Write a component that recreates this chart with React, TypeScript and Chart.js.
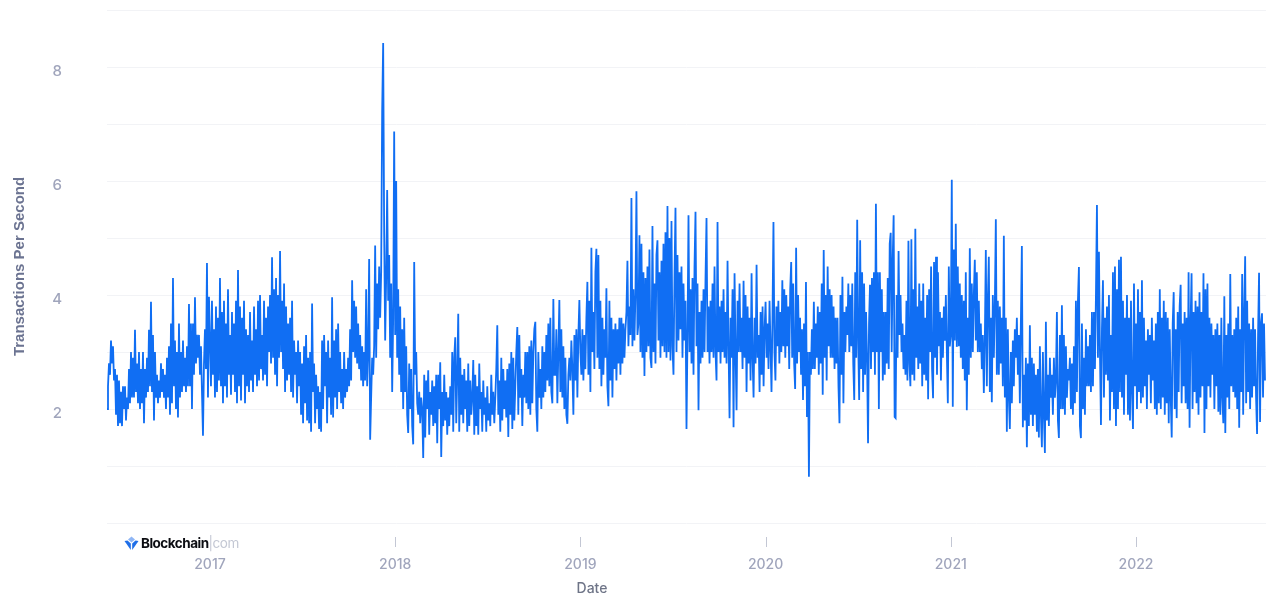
import React, { useEffect, useRef } from "react";
import { Chart, registerables } from "chart.js";

Chart.register(...registerables);

const yearTicks = [2017, 2018, 2019, 2020, 2021, 2022];
const valueTicks = [2, 4, 6, 8];
const seriesStart = 2016.444;
const seriesEnd = 2022.702;

const tps2016 = [2.0,2.4,2.8,2.6,3.2,2.8,3.1,2.5,2.7,1.9,2.6,1.7,2.5,1.75,2.3,1.7,2.4,2.0,2.4,1.8,2.2,2.0,2.7,2.1,3.0,2.2,2.9,2.2,3.39,2.3,2.8,2.1,3.0,2.0,2.7,2.1,3.0,1.75,2.7,2.2,2.9,2.3,3.39,2.4,3.88,2.3,3.3,1.8,3.0,2.2,2.6,2.1,2.5,2.2,2.8,2.3,2.7,2.2,2.6,2.0,2.9,2.2,3.1,1.9,3.5,2.1,4.3,2.4,3.2,2.0,3.0,1.85,3.5,2.2,3.0,2.3,3.2,2.4,2.9,2.3,3.1,2.4,3.84,2.4,3.5,2.0,3.5,2.6,3.96,2.8,3.3,2.9,3.3,2.6,3.1,2.3,1.53,2.8,3.4,2.7,4.56,2.2,3.97];

const tps2017 = [3.2,2.4,3.9,2.6,3.4,2.2,3.8,2.3,3.6,2.5,4.3,2.4,3.7,2.1,3.9,2.4,3.5,2.2,4.1,2.6,
3.3,2.25,3.7,2.6,3.5,2.3,3.9,2.1,4.44,2.4,3.8,2.15,3.6,2.6,3.9,2.1,3.4,2.4,3.3,2.3,
3.7,2.5,3.2,2.3,3.8,2.6,3.4,2.4,3.9,2.5,4.0,2.7,3.3,2.5,3.9,2.6,3.6,2.4,3.8,3.0,
4.0,2.8,4.66,2.9,4.1,2.6,4.3,2.4,4.0,2.9,4.77,3.0,3.9,2.7,4.2,2.3,3.8,2.5,3.5,2.6,
3.6,2.3,3.9,2.2,3.2,2.6,3.0,2.1,3.2,2.4,3.0,1.9,2.8,1.75,3.1,2.1,3.3,1.8,2.9,1.75,
3.0,1.6,3.85,2.3,2.8,1.75,2.6,2.0,2.4,1.65,2.3,1.6,3.2,2.0,3.3,2.4,3.0,1.75,3.2,2.2,
2.9,1.9,3.96,1.85,3.2,2.2,3.4,2.0,3.5,2.3,3.0,2.1,2.7,2.0,3.0,2.2,2.7,2.3,2.9,2.4,
3.4,2.5,4.26,3.0,3.9,2.9,3.8,2.8,3.5,2.7,3.3,2.5,3.1,2.4,3.0,2.5,4.1,2.4,3.0,4.63,
1.46,2.2,2.9,2.6,3.1,4.87,2.9,4.2,3.4,4.5,3.6,4.4,7.2,8.42,5.1,3.2,4.3,5.84,3.9,4.7,2.9,4.2,2.3,3.6,6.87];

const tps2018 = [3.3,6.0,2.9,4.1,2.6,3.8,2.3,3.4,2.0,3.6,2.3,3.1,1.9,1.58,2.8,2.0,2.7,1.7,1.38,4.58,
2.6,3.0,2.1,1.9,2.3,1.75,2.2,2.0,1.14,2.6,1.5,2.5,2.0,2.68,1.55,2.3,1.9,2.5,1.7,2.4,
1.75,2.6,1.4,2.6,2.0,2.82,1.16,2.3,1.7,2.6,1.8,2.3,1.55,2.2,1.7,2.4,1.9,3.0,1.6,2.9,
3.26,1.75,2.6,3.67,1.6,2.9,1.9,2.6,1.75,2.7,2.0,2.5,1.6,2.8,1.7,2.5,1.9,2.2,2.86,1.55,
2.6,1.7,2.4,1.55,2.8,2.0,2.3,1.6,2.5,1.9,2.2,1.6,2.4,1.8,2.1,1.7,2.6,1.9,2.3,1.75,
2.2,2.7,3.47,1.9,2.5,1.6,2.9,1.8,2.7,2.0,2.5,1.85,2.7,1.51,2.8,1.9,3.0,1.65,2.9,1.8,
2.4,3.0,3.44,1.9,3.3,2.2,2.7,1.7,2.6,2.2,3.0,2.1,3.0,2.0,3.1,1.9,3.2,2.1,3.0,3.4,
3.53,2.0,1.6,3.0,2.2,2.7,2.0,3.1,2.2,3.0,2.3,3.3,2.5,3.5,2.4,3.6,2.3,2.1,3.93,2.6,
2.6,3.4,2.1,3.0,3.91,2.3,3.4,2.2,3.1,2.0,2.9,1.9,1.74,2.6,2.9,2.5,3.2,2.7,1.9,3.3,2.5,3.4,2.2,3.3,3.91];

const tps2019 = [3.0,2.6,3.4,2.5,3.3,2.7,3.6,4.23,2.6,3.9,2.3,4.83,3.0,3.7,2.7,4.4,4.81,2.9,4.7,2.7,
3.9,2.4,3.6,2.6,3.4,2.9,4.12,2.4,2.05,3.9,2.5,3.6,2.2,3.4,2.7,3.5,2.5,3.4,2.8,3.6,
2.6,3.6,2.8,3.5,2.9,3.4,3.7,4.6,3.1,3.8,3.3,5.7,3.1,4.1,3.2,4.0,5.82,3.3,3.5,5.05,
3.0,4.9,2.9,4.4,2.58,4.3,3.0,4.5,3.1,4.8,2.9,2.72,5.21,3.0,4.2,2.8,4.7,4.96,3.2,4.4,
2.9,4.6,3.1,4.9,3.0,5.1,2.9,5.56,3.0,5.0,2.85,5.3,3.1,2.6,4.3,5.53,3.0,4.7,3.2,4.4,
3.4,4.5,2.9,4.2,3.2,3.9,1.65,3.3,5.4,3.0,4.1,2.8,4.3,2.6,4.5,5.46,3.1,4.2,1.98,3.7,
2.8,3.9,2.9,4.1,3.0,4.3,5.35,3.0,3.8,2.8,3.9,3.0,4.2,2.9,4.5,3.0,2.5,5.28,3.0,3.8,
2.8,3.9,3.0,4.1,2.9,3.7,2.8,4.6,3.1,1.84,3.6,2.9,4.1,1.68,4.38,3.0,1.98,3.9,3.0,4.2,
3.0,3.6,2.7,4.25,2.9,4.0,2.3,3.8,2.8,3.6,2.5,4.38,2.9,2.2,3.6,2.8,4.53,2.9,3.3,2.3,3.7,2.6,3.8,2.4,3.4];

const tps2020 = [3.88,2.9,3.5,2.7,3.9,3.1,2.3,3.6,5.28,3.0,2.5,3.8,3.1,3.9,2.8,3.7,3.0,4.26,3.1,4.1,
2.9,4.0,3.1,3.8,2.7,4.1,4.58,2.9,4.2,2.8,2.35,4.83,2.8,4.0,3.0,3.6,2.6,3.4,2.16,3.5,
2.4,4.23,1.86,3.0,0.81,3.0,2.6,3.4,2.7,3.88,2.7,3.5,2.9,3.8,2.6,3.7,2.8,4.2,2.25,4.79,2.9,
4.0,2.5,4.5,3.1,4.1,2.9,4.0,2.9,3.8,2.7,3.6,2.8,3.6,2.4,1.75,4.0,2.6,4.32,2.1,3.7,
3.0,3.8,3.3,4.2,3.0,4.0,3.1,4.2,2.8,2.16,4.4,2.9,5.32,3.2,2.16,4.96,2.7,4.4,2.3,4.2,
2.6,3.7,2.9,1.4,3.5,4.18,2.7,4.3,3.0,4.4,2.6,5.6,3.0,4.4,2.0,4.4,3.0,4.1,2.5,3.7,
2.6,3.7,2.8,4.3,2.7,4.9,5.09,3.0,4.6,5.4,1.86,1.84,4.0,2.9,4.77,3.3,
4.0,3.0,3.5,2.7,3.3,2.6,3.9,2.5,4.95,2.8,2.4,4.98,2.6,4.1,2.5,5.16,2.9,3.8,2.7,4.2,
2.8,3.9,2.4,4.2,2.6,3.6,2.5,4.0,2.17,4.1,3.0,4.5,2.7,2.19,4.58,2.9,4.67,2.6,4.4,3.1,
3.7,2.5,3.6,2.9,3.8,3.2,4.0,3.0,2.1,4.5,3.1];

const tps2021 = [3.3,6.02,2.04,4.8,3.2,5.25,3.09,4.5,3.1,4.2,2.9,4.0,2.7,3.9,2.5,4.4,1.98,3.6,2.6,4.82,
2.9,4.2,3.0,4.0,4.62,3.2,4.4,3.0,3.9,3.0,3.5,2.7,3.3,2.28,3.2,4.79,2.4,3.9,4.67,2.3,
3.6,2.12,4.0,2.9,3.8,5.33,2.6,3.9,2.6,3.8,2.8,3.6,2.4,5.04,2.2,3.6,1.6,3.4,2.2,1.65,
3.0,2.1,3.2,2.4,3.4,2.9,3.6,2.6,3.3,2.1,3.5,4.86,1.68,2.6,1.8,2.9,1.33,2.8,1.7,3.47,
1.9,2.9,1.7,2.8,1.9,2.6,1.6,2.7,1.5,3.1,1.9,1.33,3.0,1.9,1.23,3.53,1.8,2.6,1.7,2.9,
2.2,2.6,1.9,2.9,2.2,2.5,3.7,1.8,1.49,3.3,2.0,3.82,2.0,3.3,1.9,3.1,2.2,2.7,2.5,2.9,
2.0,2.8,1.9,3.1,2.1,3.9,2.3,3.9,4.49,1.7,1.49,3.5,2.0,2.9,1.9,3.4,2.4,3.1,2.4,3.3,
2.3,3.7,2.4,3.7,2.7,4.0,5.58,2.9,4.76,3.0,1.72,3.4,4.26,2.2,3.6,2.6,3.8,2.5,4.0,1.8,
3.3,2.3,4.4,2.0,4.5,1.7,4.1,2.0,4.62,2.3,4.67,2.2,3.9,1.9,3.6,2.6,4.0,1.9,3.6,1.8,3.9,2.3,1.65,4.2,2.4];

const tps2022 = [3.5,2.0,4.1,2.3,3.7,2.1,4.26,2.2,3.6,2.4,3.2,2.0,3.4,2.6,3.3,2.1,3.6,2.5,3.2,2.0,
3.5,1.9,3.7,2.1,4.1,2.0,3.6,2.2,3.9,1.9,3.7,2.1,3.6,1.75,3.4,2.2,1.5,3.5,4.05,2.0,
3.4,1.84,3.7,2.3,3.8,4.18,2.1,3.5,2.4,3.7,2.1,3.6,2.0,4.4,1.67,3.5,4.38,2.0,3.7,2.3,
3.9,2.1,3.8,1.9,4.05,2.2,3.7,2.4,4.38,1.58,4.1,2.0,4.2,2.4,3.6,2.2,3.5,2.6,3.3,2.0,
3.4,2.4,3.5,1.95,3.3,1.9,3.6,2.2,1.75,3.98,1.58,3.3,2.2,3.5,2.0,4.37,2.4,3.3,2.3,3.4,
2.2,3.6,2.0,3.8,1.67,3.4,2.3,4.37,1.9,3.7,4.68,2.1,3.9,2.3,3.5,2.0,3.4,2.2,3.6,2.4,
3.4,2.2,1.56,3.3,4.39,1.77,3.5,3.68,2.2,3.5,2.5];

function place(values: number[], from: number, to: number) {
  return values.map((y, i) => ({ x: from + ((to - from) * i) / values.length, y }));
}

const points = [
  ...place(tps2016, seriesStart, 2017),
  ...place(tps2017, 2017, 2018),
  ...place(tps2018, 2018, 2019),
  ...place(tps2019, 2019, 2020),
  ...place(tps2020, 2020, 2021),
  ...place(tps2021, 2021, 2022),
  ...place(tps2022, 2022, seriesEnd),
];

const yearMarks = {
  id: "yearMarks",
  afterDraw(chart: any) {
    const { ctx, scales } = chart;
    ctx.save();
    ctx.strokeStyle = "#c3c7d4";
    ctx.lineWidth = 1;
    yearTicks.forEach((y) => {
      const px = Math.round(scales.x.getPixelForValue(y)) + 0.5;
      ctx.beginPath();
      ctx.moveTo(px, scales.x.top + 14);
      ctx.lineTo(px, scales.x.top + 24);
      ctx.stroke();
    });
    ctx.restore();
  },
};

export default function App() {
  const ref = useRef<HTMLCanvasElement>(null);
  useEffect(() => {
    const chart = new Chart(ref.current as HTMLCanvasElement, {
      type: "line",
      data: {
        datasets: [
          {
            data: points,
            borderColor: "#106ef3",
            borderWidth: 1.8,
            pointRadius: 0,
            tension: 0,
            fill: false,
          },
        ],
      },
      plugins: [yearMarks],
      options: {
        responsive: false,
        animation: false,
        layout: { padding: { top: 10, right: 8, left: 0, bottom: 0 } },
        plugins: { legend: { display: false }, tooltip: { enabled: false } },
        scales: {
          x: {
            type: "linear",
            min: seriesStart,
            max: seriesEnd,
            afterBuildTicks(axis: any) {
              axis.ticks = yearTicks.map((value) => ({ value }));
            },
            afterFit(axis: any) {
              axis.height = 73;
            },
            grid: { display: false },
            border: { display: false },
            ticks: {
              autoSkip: false,
              maxRotation: 0,
              padding: 25,
              color: "#a0a5bc",
              font: { family: "Inter", size: 14, weight: "500" },
              callback: (v: any) => String(v),
            },
          },
          y: {
            min: 0,
            max: 9,
            afterFit(axis: any) {
              axis.width = 107;
            },
            grid: { color: "#f2f3f6", lineWidth: 1, drawTicks: true, tickLength: 45, tickColor: "rgba(0,0,0,0)" },
            border: { display: false },
            ticks: {
              stepSize: 1,
              padding: 0,
              color: "#a0a5bc",
              font: { family: "Inter", size: 15, weight: "500", lineHeight: "9px" },
              callback: (v: any) => (valueTicks.includes(v) ? ["", String(v)] : ""),
            },
            title: {
              display: true,
              text: "Transactions Per Second",
              color: "#6b7391",
              font: { family: "Liberation Sans", size: 15, weight: "bold" },
              padding: { top: 11, bottom: 0 },
            },
          },
        },
      },
    } as any);
    return () => chart.destroy();
  }, []);

  return (
    <div style={{ position: "absolute", left: 0, top: 0, width: 1274, height: 596 }}>
      <canvas ref={ref} width={1274} height={596} style={{ display: "block" }} />
      <div
        style={{
          position: "absolute",
          left: 122,
          top: 535,
          width: 120,
          height: 16,
          background: "#fff",
          display: "flex",
          alignItems: "center",
          fontFamily: "Inter",
          fontSize: 13.5,
          lineHeight: "16px",
          letterSpacing: -0.5,
        }}
      >
        <svg width="15" height="15" viewBox="0 0 15 15" style={{ marginLeft: 2, marginRight: 2 }}>
          <path d="M7.5 0.5 L11 3.6 L7.5 6.6 L4 3.6 Z" fill="#8fb6f5" />
          <path d="M0.5 5 L3.5 4.4 L6.8 7.4 L6.8 14 Z" fill="#1f6fe8" />
          <path d="M14.5 5 L11.5 4.4 L8.2 7.4 L8.2 14 Z" fill="#1f6fe8" />
        </svg>
        <span style={{ fontWeight: 700, color: "#0c0d12" }}>Blockchain</span>
        <span style={{ color: "#c4c8d4", fontWeight: 400 }}>|com</span>
      </div>
      <div
        style={{
          position: "absolute",
          left: 552,
          width: 80,
          top: 579,
          textAlign: "center",
          fontFamily: "Inter",
          fontWeight: 500,
          fontSize: 14,
          lineHeight: "18px",
          color: "#6e7487",
        }}
      >
        Date
      </div>
    </div>
  );
}
